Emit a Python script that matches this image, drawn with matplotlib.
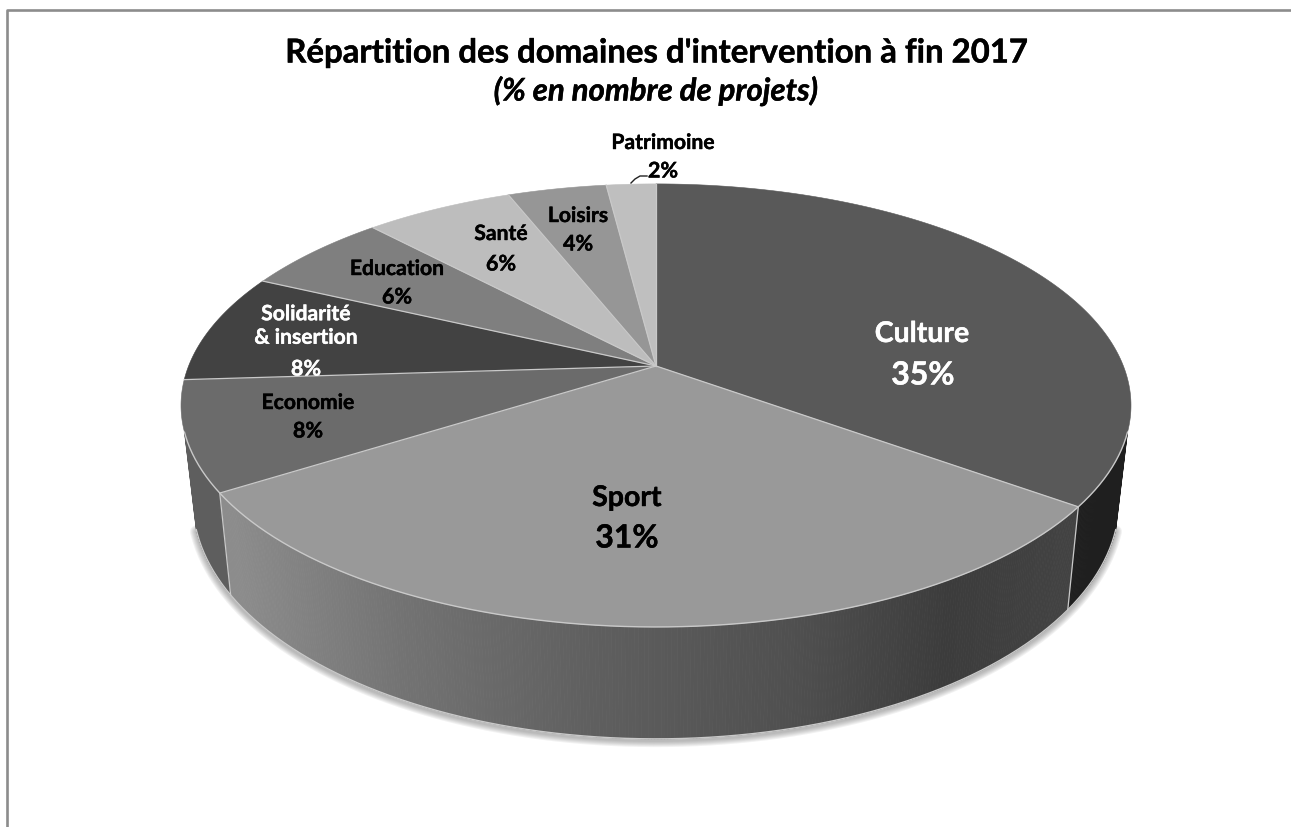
"""Camembert 3D en perspective : domaines d'intervention fin 2017."""

import matplotlib

matplotlib.use("Agg")
import matplotlib.patheffects as pe  # noqa: E402
import matplotlib.pyplot as plt  # noqa: E402
import numpy as np
from matplotlib.collections import PolyCollection
from matplotlib.colors import to_hex
from matplotlib.patches import Polygon

CATEGORIES = [
    "Culture",
    "Sport",
    "Economie",
    "Solidarité\n& insertion",
    "Education",
    "Santé",
    "Loisirs",
    "Patrimoine",
]
VALUES = [35, 31, 8, 8, 6, 6, 4, 2]

FACE_COLORS = ["#595959", "#999999", "#6b6b6b", "#424242", "#7f7f7f", "#bdbdbd", "#969696", "#bfbfbf"]
TEXT_COLORS = ["white", "black", "black", "white", "black", "black", "black", "black"]
NAME_XY = [(922, 335), (627, 499), (308, 404), (306, 327), (397, 270), (501, 235), (578, 217), (663, 144)]
PCT_XY = [(923, 376), (627, 539), (308, 432), (306, 370), (397, 298), (501, 265), (578, 245), (663, 172)]
NAME_SIZES = [20.5, 20.5, 15.2, 15.2, 15.2, 15.2, 15.2, 15.2]
PCT_SIZES = [23, 23, 15.5, 15.5, 15.5, 15.5, 15.5, 15.5]

# projection du disque
CX, CY = 656, 367
PERSP = 0.178
SCALE_X, SCALE_Y = 467.4, 214.5
# disque du bas
BASE_Y, BASE_SX, BASE_SY = 459.6, 0.975, 1.074
# arc visible de la tranche (degres)
SIDE_START, SIDE_END = 107, 253

EDGE = "#c9c9c9"
FONT = "Lato"

plt.rcParams["font.family"] = FONT


def top_rim(theta_deg):
    t = np.radians(theta_deg)
    w = 1 + PERSP * np.cos(t)
    return CX + SCALE_X * np.sin(t) / w, CY - SCALE_Y * np.cos(t) / w


def bottom_rim(theta_deg):
    x, y = top_rim(theta_deg)
    return CX + BASE_SX * (x - CX), BASE_Y + BASE_SY * (y - CY)


def side_shade(x):
    grey = np.interp(x, [231, 400, 600, 800, 950, 1070], [0.55, 0.45, 0.37, 0.31, 0.235, 0.26])
    return to_hex((grey, grey, grey))


def bold_text(x, y, text, color, size, **kwargs):
    # un leger contour pour epaissir le gras de Lato
    t = ax.text(x, y, text, color=color, fontsize=size, fontweight="bold",
                ha="center", va="center", zorder=6, **kwargs)
    t.set_path_effects([pe.withStroke(linewidth=0.3, foreground=color)])
    return t


fig = plt.figure(figsize=(12.91, 8.28), dpi=100, facecolor="white")
ax = fig.add_axes([0, 0, 1, 1])
ax.set_xlim(0, 1291)
ax.set_ylim(828, 0)
ax.axis("off")

# cadre : seulement a gauche et en haut
ax.plot([7, 7, 1291], [828, 11, 11], color="#8c8c8c", lw=1.9, zorder=1)

bounds = np.concatenate([[0], np.cumsum(VALUES)]) * 3.6

# ombre sous le disque
arc = np.linspace(SIDE_START, SIDE_END, 300)
bx, by = bottom_rim(arc)
for lw in (9, 7.5, 6, 4.5, 3, 1.5):
    ax.plot(bx, by + 2, color="#666666", alpha=0.09, lw=lw, zorder=2, solid_capstyle="round")

# tranche du cylindre
for start, end, kind in zip(bounds[:-1], bounds[1:], range(len(VALUES))):
    lo, hi = max(start, SIDE_START), min(end, SIDE_END)
    if lo >= hi:
        continue
    steps = np.linspace(lo, hi, int(hi - lo) * 3 + 2)
    quads, shades = [], []
    for a, b in zip(steps[:-1], steps[1:]):
        x0, y0 = top_rim(a)
        x1, y1 = top_rim(b)
        x2, y2 = bottom_rim(b)
        x3, y3 = bottom_rim(a)
        quads.append([(x0, y0), (x1, y1), (x2, y2), (x3, y3)])
        if kind == 0:
            shades.append("#1f1f1f")
        elif kind == 1:
            shades.append(side_shade((x0 + x1) / 2))
        else:
            shades.append("#5e5e5e")
    ax.add_collection(PolyCollection(quads, facecolors=shades, edgecolors=shades, linewidths=0.6, zorder=3))

# faces du dessus
for start, end, color in zip(bounds[:-1], bounds[1:], FACE_COLORS):
    theta = np.linspace(start, end, 200)
    x, y = top_rim(theta)
    pts = np.column_stack([np.r_[CX, x], np.r_[CY, y]])
    ax.add_patch(Polygon(pts, closed=True, facecolor=color, edgecolor=color, lw=0.4, zorder=4))

# filets clairs : rayons, aretes verticales, bords avant
for angle in bounds[:-1]:
    x, y = top_rim(angle)
    ax.plot([CX, x], [CY, y], color=EDGE, lw=0.9, zorder=5)
    if SIDE_START < angle < SIDE_END:
        x2, y2 = bottom_rim(angle)
        ax.plot([x, x2], [y, y2], color=EDGE, lw=0.9, zorder=5)
tx, ty = top_rim(arc)
ax.plot(tx, ty, color=EDGE, lw=1.0, zorder=5)
ax.plot(bx, by, color=EDGE, lw=1.0, zorder=5)

# etiquettes
for i, name in enumerate(CATEGORIES):
    nx, ny = NAME_XY[i]
    px, py = PCT_XY[i]
    bold_text(nx, ny, name, TEXT_COLORS[i], NAME_SIZES[i], linespacing=1.22)
    bold_text(px, py, f"{VALUES[i]}%", TEXT_COLORS[i], PCT_SIZES[i])

# trait de rappel de la petite tranche
ax.plot([631, 635, 640, 647], [184, 180, 177, 177], color="#222222", lw=1.0, zorder=6)

bold_text(656, 54, "Répartition des domaines d'intervention à fin 2017", "black", 23.7)
bold_text(656, 92, "(% en nombre de projets)", "black", 22.5, fontstyle="italic")

fig.savefig("out.png", dpi=100)
plt.close(fig)
